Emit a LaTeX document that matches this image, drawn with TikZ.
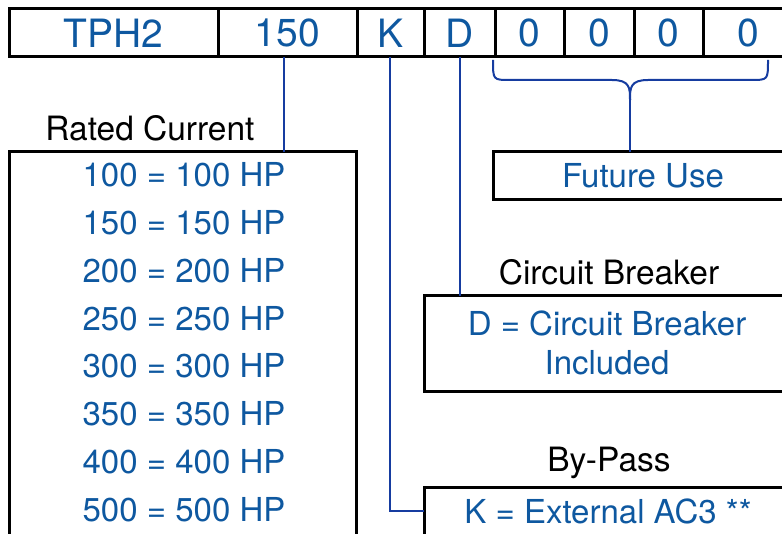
\documentclass[tikz,border=0pt]{standalone}
\usepackage{fontspec}
\setmainfont{TeX Gyre Heros}
\definecolor{txtblue}{RGB}{14,88,160}
\definecolor{lineblue}{RGB}{22,60,160}
\begin{document}
\begin{tikzpicture}[x=1pt,y=1pt,
  cell/.style={draw=black,line width=3pt,text=txtblue,font=\fontsize{39}{39}\selectfont,minimum height=48pt,anchor=north west,inner sep=0pt,outer sep=0pt},
  box/.style={draw=black,line width=3pt,anchor=north west,inner sep=0pt,outer sep=0pt},
  btxt/.style={text=txtblue,font=\fontsize{33}{33}\selectfont,inner sep=0pt},
  lbl/.style={text=black,font=\fontsize{33.5}{33.5}\selectfont,inner sep=0pt},
  conn/.style={draw=lineblue,line width=2pt}]
\clip (0,0) rectangle (782,-534);
% top code bar
\node[cell,minimum width=209pt] (tph) at (9,-9) {TPH2};
\node[cell,minimum width=139pt] (c150) at (218,-9) {150};
\node[cell,minimum width=67pt] (ck) at (357,-9) {K};
\node[cell,minimum width=71pt] (cd) at (424,-9) {D};
\node[cell,minimum width=69pt] (z1) at (495,-9) {0};
\node[cell,minimum width=70pt] (z2) at (564,-9) {0};
\node[cell,minimum width=69pt] (z3) at (634,-9) {0};
\node[cell,minimum width=90pt,text width=70pt,align=center] (z4) at (703,-9) {0};
% rated current
\node[lbl] (ratedlbl) at (150,-128) {Rated Current};
\node[box,minimum width=347pt,minimum height=400pt] (rated) at (9,-152) {};
\foreach \v [count=\i from 0] in {100,150,200,250,300,350,400,500}
  \node[btxt] (r\i) at (184,-175-47.8*\i) {\v\ = \v\ HP};
% future use
\node[box,minimum width=300pt,minimum height=48pt] (future) at (493,-152) {};
\node[btxt] (futuretxt) at (643,-176) {Future Use};
% circuit breaker
\node[lbl] (cblbl) at (609,-272) {Circuit Breaker};
\node[box,minimum width=370pt,minimum height=96pt] (cb) at (424,-296) {};
\node[btxt] (cbt1) at (607,-323) {D = Circuit Breaker};
\node[btxt] (cbt2) at (607,-363) {Included};
% by-pass
\node[lbl] (bplbl) at (609,-463) {By-Pass};
\node[box,minimum width=370pt,minimum height=60pt] (bp) at (424,-487) {};
\node[btxt] (bpt) at (608,-511) {K = External AC3 **};
% connectors
\coordinate (r150) at (284,-57);
\draw[conn] (r150) -- (r150 |- rated.north);
\coordinate (kk) at (390,-57);
\draw[conn] (kk) |- (bp.west |- bpt);
\coordinate (dd) at (460,-57);
\draw[conn] (dd) -- (dd |- cb.north);
% brace
\coordinate (tip) at (630,-100);
\draw[conn] (493,-60) .. controls (493,-80) .. (510,-80) -- (612,-80)
  .. controls (630,-80) and (630,-88) .. (tip);
\draw[conn] (768,-60) .. controls (768,-80) .. (751,-80) -- (648,-80)
  .. controls (630,-80) and (630,-88) .. (tip);
\draw[conn] (tip) -- (tip |- future.north);
\end{tikzpicture}
\end{document}
